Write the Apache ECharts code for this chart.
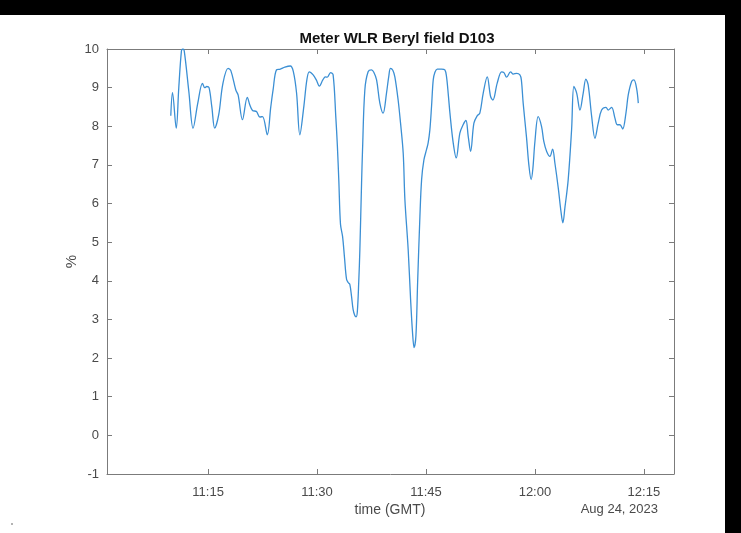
<!DOCTYPE html>
<html>
<head>
<meta charset="utf-8">
<title>Meter WLR Beryl field D103</title>
<script src="https://cdn.jsdelivr.net/npm/echarts@6/dist/echarts.min.js"></script>
<style>
  html, body { margin: 0; padding: 0; background: #ffffff; }
  #chart { width: 741px; height: 533px; }
</style>
</head>
<body>
<div id="chart"></div>
<script>
// Water-in-liquid ratio readings, 24 Aug 2023 (GMT)
const day = '2023-08-24';
const times = [
  '11:09:52','11:10:06','11:10:37','11:10:58','11:11:20','11:11:31','11:11:43','11:12:21','11:12:56','11:13:35',
  '11:14:14','11:14:33','11:14:49','11:15:08','11:15:31','11:15:55','11:16:28','11:17:02','11:17:45','11:18:08',
  '11:18:49','11:19:08','11:19:44','11:20:24','11:20:45','11:21:07','11:21:40','11:22:07','11:22:30','11:23:09',
  '11:23:38','11:23:57','11:24:25','11:24:57','11:25:34','11:26:19','11:26:44','11:27:11','11:27:38','11:28:11',
  '11:28:36','11:28:56','11:29:28','11:29:54','11:30:19','11:30:48','11:31:09','11:31:25','11:31:52','11:32:13',
  '11:32:35','11:32:48','11:33:00','11:33:14','11:33:31','11:33:47','11:34:04','11:34:19','11:34:31','11:34:45',
  '11:34:58','11:35:12','11:35:23','11:35:33','11:35:45','11:35:54','11:36:08','11:36:16','11:36:35','11:37:02',
  '11:37:30','11:37:49','11:38:12','11:38:39','11:39:06','11:39:34','11:39:53','11:40:07','11:40:26','11:40:43',
  '11:41:10','11:41:30','11:41:52','11:42:06','11:42:33','11:42:53','11:43:09','11:43:22','11:43:37','11:43:51',
  '11:44:10','11:44:24','11:44:43','11:45:05','11:45:18','11:45:32','11:45:46','11:46:00','11:46:14','11:46:33',
  '11:47:09','11:47:36','11:47:50','11:48:05','11:48:18','11:48:45','11:49:10','11:49:40','11:50:07','11:50:30',
  '11:50:49','11:51:09','11:51:36','11:52:03','11:52:25','11:52:53','11:53:26','11:53:54','11:54:13','11:54:48',
  '11:55:25','11:55:44','11:56:06','11:56:39','11:57:01','11:57:29','11:57:56','11:58:08','11:58:23','11:58:51',
  '11:59:10','11:59:29','11:59:43','12:00:00','12:00:27','12:00:55','12:01:14','12:01:37','12:02:04','12:02:26',
  '12:02:45','12:03:13','12:03:35','12:03:51','12:04:08','12:04:35','12:05:03','12:05:22','12:05:45','12:06:12',
  '12:06:39','12:07:01','12:07:20','12:07:49','12:08:16','12:08:43','12:09:11','12:09:47','12:10:06','12:10:34',
  '12:11:01','12:11:20','12:11:42','12:12:05','12:12:32','12:12:51','12:13:19','12:13:38','12:14:00','12:14:14'
];
const wlr = [
  8.27, 8.87, 7.95, 9.00, 9.95, 10.0, 9.95, 8.90, 7.95, 8.60,
  9.11, 9.00, 9.03, 9.00, 8.50, 7.95, 8.30, 9.10, 9.50, 9.44,
  8.94, 8.81, 8.17, 8.75, 8.55, 8.41, 8.38, 8.24, 8.25, 7.78,
  8.50, 8.94, 9.46, 9.48, 9.53, 9.56, 9.42, 8.86, 7.78, 8.51,
  9.20, 9.41, 9.33, 9.20, 9.04, 9.20, 9.28, 9.27, 9.39, 9.33,
  8.25, 7.50, 6.60, 5.46, 5.15, 4.60, 4.04, 3.95, 3.91, 3.60,
  3.26, 3.10, 3.07, 3.20, 4.00, 4.81, 6.53, 7.39, 8.94, 9.41,
  9.46, 9.40, 9.20, 8.60, 8.34, 8.86, 9.30, 9.50, 9.45, 9.28,
  8.68, 8.08, 7.30, 6.10, 4.81, 3.52, 2.66, 2.27, 2.57, 3.95,
  5.67, 6.62, 7.13, 7.40, 7.57, 7.90, 8.51, 9.20, 9.40, 9.48,
  9.48, 9.46, 9.28, 8.80, 8.34, 7.57, 7.18, 7.82, 8.04, 8.15,
  7.74, 7.35, 8.08, 8.27, 8.34, 8.86, 9.28, 8.77, 8.68, 9.11,
  9.41, 9.39, 9.27, 9.41, 9.35, 9.37, 9.33, 9.20, 8.60, 7.70,
  7.00, 6.62, 6.90, 7.60, 8.25, 7.99, 7.60, 7.35, 7.22, 7.41,
  7.05, 6.40, 5.80, 5.50, 5.90, 6.62, 7.91, 9.03, 8.86, 8.42,
  8.86, 9.22, 9.07, 8.25, 7.69, 8.08, 8.42, 8.49, 8.42, 8.49,
  8.21, 8.04, 8.04, 7.93, 8.34, 8.81, 9.16, 9.20, 8.98, 8.60
];
const timeTicks = ['11:15', '11:30', '11:45', '12:00', '12:15'];
const yTicks = [-1, 0, 1, 2, 3, 4, 5, 6, 7, 8, 9, 10];
const axisStart = '11:01:05';
const axisEnd = '12:19:09';

// Clock time -> epoch milliseconds (x axis is a numeric ms scale)
const toTime = s => new Date(day + 'T' + (s.length === 5 ? s + ':00' : s)).getTime();
const seriesData = times.map((t, i) => [toTime(t), wlr[i]]);
const tickValues = timeTicks.map(toTime);

const axisColor = '#7b7b7b';
const labelColor = '#4a4a4a';
const font = '"Liberation Sans", Arial, sans-serif';

function timeLabel(v) {
  const i = tickValues.indexOf(v);
  return i >= 0 ? timeTicks[i] : '';
}

const chart = echarts.init(document.getElementById('chart'), null, { renderer: 'canvas' });

const xCommon = {
  type: 'value',
  min: toTime(axisStart),
  max: toTime(axisEnd),
  scale: true,
  splitLine: { show: false },
  axisLine: { onZero: false, lineStyle: { color: axisColor, width: 1 } },
  axisTick: { inside: true, length: 5, customValues: tickValues, lineStyle: { color: axisColor } }
};
const yCommon = {
  type: 'value',
  min: -1,
  max: 10,
  interval: 1,
  splitLine: { show: false },
  axisLine: { show: true, onZero: false, lineStyle: { color: axisColor, width: 1 } },
  axisTick: { show: true, inside: true, length: 5, lineStyle: { color: axisColor } }
};

chart.setOption({
  animation: false,
  backgroundColor: '#ffffff',
  title: {
    text: 'Meter WLR Beryl field D103',
    left: 392,
    textAlign: 'center',
    top: 26,
    textStyle: { fontFamily: font, fontSize: 15, fontWeight: 'bold', color: '#111111' }
  },
  grid: { left: 107, right: 67, top: 49, bottom: 59, containLabel: false },
  xAxis: [
    Object.assign({}, xCommon, {
      position: 'bottom',
      axisLabel: {
        customValues: tickValues,
        formatter: timeLabel,
        color: labelColor, fontFamily: font, fontSize: 13, margin: 12,
        hideOverlap: false
      }
    }),
    Object.assign({}, xCommon, {
      position: 'top',
      axisLabel: { show: false }
    })
  ],
  yAxis: [
    Object.assign({}, yCommon, {
      position: 'left',
      name: '%',
      nameLocation: 'middle',
      nameGap: 28,
      nameMoveOverlap: false,
      nameTextStyle: { color: labelColor, fontFamily: font, fontSize: 15 },
      axisLabel: {
        color: labelColor, fontFamily: font, fontSize: 13, margin: 8,
        formatter: v => (yTicks.indexOf(v) >= 0 ? String(v) : '')
      }
    }),
    Object.assign({}, yCommon, {
      position: 'right',
      axisLabel: { show: false }
    })
  ],
  series: [{
    type: 'line',
    name: 'WLR',
    data: seriesData,
    xAxisIndex: 0,
    yAxisIndex: 0,
    showSymbol: false,
    smooth: 0.35,
    clip: true,
    lineStyle: { color: '#3b8fd4', width: 1.3 },
    emphasis: { disabled: true }
  }],
  graphic: [
    {
      type: 'text',
      style: {
        text: 'time (GMT)',
        x: 390, y: 510,
        fill: labelColor,
        font: '14px ' + font,
        textAlign: 'center',
        textVerticalAlign: 'middle'
      }
    },
    {
      type: 'text',
      style: {
        text: 'Aug 24, 2023',
        x: 658, y: 509,
        fill: labelColor,
        font: '13px ' + font,
        textAlign: 'right',
        textVerticalAlign: 'middle'
      }
    },
    { type: 'circle', shape: { cx: 12, cy: 524, r: 1 }, style: { fill: '#9a9a9a' } },
    { type: 'rect', shape: { x: 0, y: 0, width: 741, height: 15 }, style: { fill: '#000000' } },
    { type: 'rect', shape: { x: 725, y: 0, width: 16, height: 533 }, style: { fill: '#000000' } }
  ]
});
</script>
</body>
</html>
